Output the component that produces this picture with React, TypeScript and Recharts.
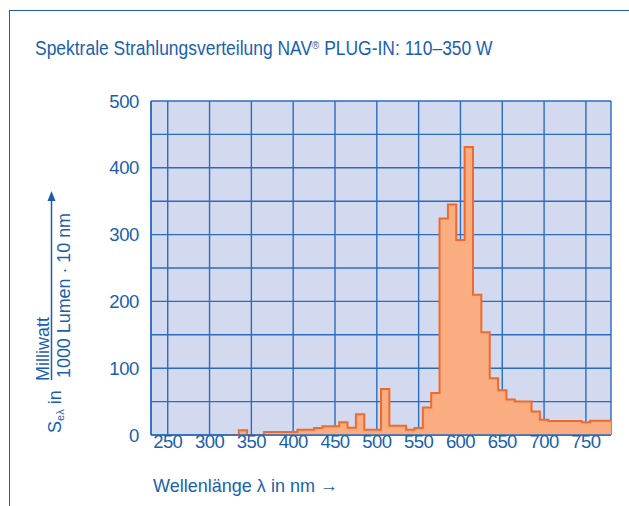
import React from 'react';
import { ComposedChart, Area, XAxis, YAxis, CartesianGrid } from 'recharts';

// Wavelength bins (nm, bin centres, 10 nm wide) and spectral values
const binCenters = [
  330, 340, 350, 360, 370, 380, 390, 400, 410, 420, 430, 440, 450, 460, 470, 480, 490, 500,
  510, 520, 530, 540, 550, 560, 570, 580, 590, 600, 610, 620, 630, 640, 650, 660, 670, 680,
  690, 700, 710, 720, 730, 740, 750, 760, 770, 780,
];
const values = [
  0, 7, 0, 0, 4.5, 4.5, 4.5, 4.5, 8, 8, 10.5, 13, 13, 19, 11, 31, 8, 8,
  69, 14, 14, 8, 10.5, 41, 63, 324, 345, 292, 431, 210, 154, 85, 67, 53, 50, 50,
  35, 23, 21, 21, 21, 21, 19, 21.5, 21.5, 21.5,
];
const binWidth = 10;
const xDomain = [230, 780];
const xTicks = [230, 250, 300, 350, 400, 450, 500, 550, 600, 650, 700, 750, 780];
const xTickLabels = [250, 300, 350, 400, 450, 500, 550, 600, 650, 700, 750];
const yTicks = [0, 50, 100, 150, 200, 250, 300, 350, 400, 450, 500];
const yTickLabels = [0, 100, 200, 300, 400, 500];

const titleA = 'Spektrale Strahlungsverteilung NAV';
const titleReg = '®';
const titleB = ' PLUG-IN: 110–350 W';
const xLabel = 'Wellenlänge λ in nm →';

const data = binCenters.map((c, i) => ({ x: c - binWidth / 2, v: values[i] }));
data.push({ x: binCenters[binCenters.length - 1] + binWidth / 2, v: values[values.length - 1] });

const BLUE = '#1a5fae';
const GRID = '#2b6cbf';
const FONT = '"Liberation Sans", Arial, sans-serif';

const XTick = (props: any) => {
  const { x, y, payload } = props;
  if (!xTickLabels.includes(payload.value)) return null;
  return (
    <text x={x} y={y + 13} textAnchor="middle" fill={BLUE} fontSize={18.5} fontFamily={FONT} letterSpacing={-0.6}>
      {payload.value}
    </text>
  );
};

const YTick = (props: any) => {
  const { x, y, payload } = props;
  if (!yTickLabels.includes(payload.value)) return null;
  return (
    <text x={x} y={y + 6.5} textAnchor="end" fill={BLUE} fontSize={18.5} fontFamily={FONT} letterSpacing={-0.4}>
      {payload.value}
    </text>
  );
};

export default function App() {
  return (
    <div style={{ position: 'absolute', left: 0, top: 0, width: 629, height: 506, overflow: 'hidden', background: '#fff' }}>
      <div style={{ position: 'absolute', left: 9, top: 10, width: 700, height: 600, borderTop: `1.5px solid ${BLUE}`, borderLeft: `1.5px solid ${BLUE}` }} />
      <div style={{ position: 'absolute', left: 0, top: 0 }}>
        <ComposedChart width={629} height={506} data={data} margin={{ top: 101, right: 18, bottom: 41, left: 0 }}>
          <CartesianGrid stroke={GRID} strokeWidth={1.4} fill="#d3d9ee" fillOpacity={1} />
          <Area
            type="stepAfter"
            dataKey="v"
            stroke="#f26a2b"
            strokeWidth={2}
            fill="#f9ad80"
            fillOpacity={1}
            isAnimationActive={false}
            dot={false}
            activeDot={false}
          />
          <XAxis
            type="number"
            dataKey="x"
            domain={xDomain}
            allowDataOverflow
            ticks={xTicks}
            tickSize={0}
            tickMargin={0}
            height={30}
            axisLine={{ stroke: GRID, strokeWidth: 1.6 }}
            tick={<XTick />}
            interval={0}
          />
          <YAxis
            type="number"
            domain={[0, 500]}
            ticks={yTicks}
            tickSize={0}
            tickMargin={12}
            width={151}
            axisLine={{ stroke: GRID, strokeWidth: 1.6 }}
            tick={<YTick />}
            interval={0}
          />
        </ComposedChart>
      </div>
      <svg width={629} height={506} style={{ position: 'absolute', left: 0, top: 0, pointerEvents: 'none' }}>
        <text transform="translate(35,55) scale(0.895,1)" fill={BLUE} fontSize={19.5} fontFamily={FONT}>
          {titleA}
          <tspan fontSize={11} dy={-6}>{titleReg}</tspan>
          <tspan dy={6}>{titleB}</tspan>
        </text>
        <text x={153} y={492} fill={BLUE} fontSize={19} fontFamily={FONT} textLength={185} lengthAdjust="spacingAndGlyphs">
          {xLabel}
        </text>
        <g fill={BLUE} fontFamily={FONT}>
          <text transform="translate(61,433) rotate(-90)" fontSize={18}>
            S<tspan fontSize={11} dy={3}>eλ</tspan>
            <tspan dy={-3}> in</tspan>
          </text>
          <text transform="translate(49,381) rotate(-90)" fontSize={18}>Milliwatt</text>
          <text transform="translate(70,378) rotate(-90)" fontSize={18} textLength={165} lengthAdjust="spacingAndGlyphs">1000 Lumen · 10 nm</text>
        </g>
        <line x1={51.5} y1={380} x2={51.5} y2={198} stroke={BLUE} strokeWidth={1.5} />
        <polygon points="51.5,191 47.5,201 55.5,201" fill={BLUE} />
      </svg>
    </div>
  );
}
